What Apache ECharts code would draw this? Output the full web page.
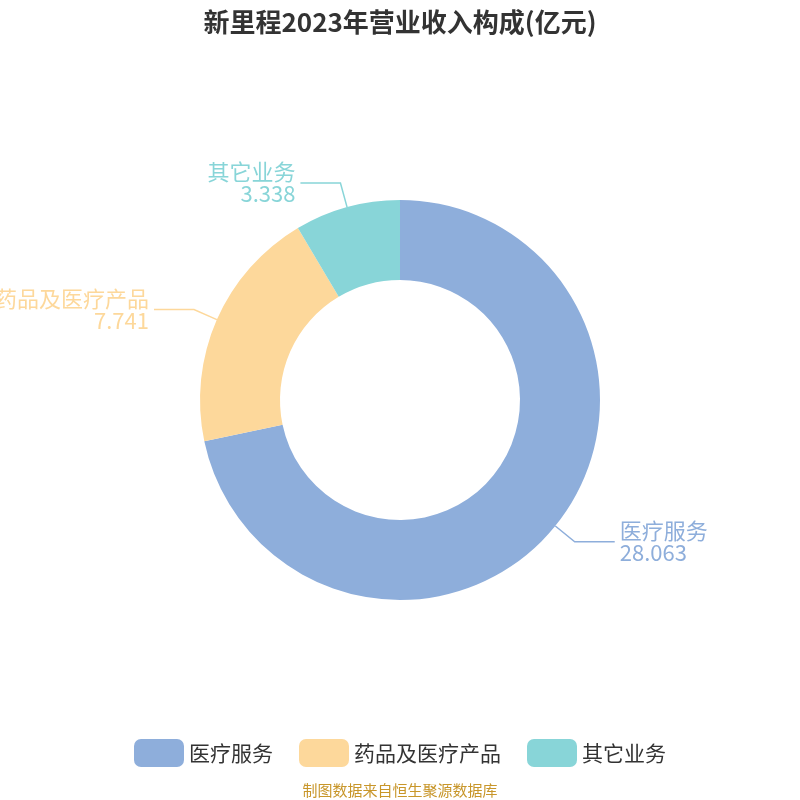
<!DOCTYPE html>
<html><head><meta charset="utf-8">
<script src="https://cdn.jsdelivr.net/npm/echarts@6/dist/echarts.min.js"></script>
<style>html,body{margin:0;padding:0}#c{width:800px;height:800px}</style></head>
<body><div id="c"></div>
<script>
const categories = ['医疗服务', '药品及医疗产品', '其它业务'];
const values = [28.063, 7.741, 3.338];
const colors = ['#8eaedb', '#fdd89b', '#88d5d8'];
const chart = echarts.init(document.getElementById('c'));
chart.setOption({
  title: [{text: '新里程2023年营业收入构成(亿元)', left: 'center', top: 4,
    textStyle: {fontSize: 26, fontWeight: 'bold', color: '#333', fontFamily: 'Noto Sans CJK SC'}},
    {text: '制图数据来自恒生聚源数据库', left: 'center', top: 778,
    textStyle: {fontSize: 15, fontWeight: 'normal', color: '#c8962a', fontFamily: 'Noto Sans CJK SC'}}],
  color: colors,
  legend: {bottom: 28, itemWidth: 50, itemHeight: 28, itemGap: 26, itemStyle: {borderRadius: 6},
    textStyle: {fontSize: 21, color: '#333', fontFamily: 'Noto Sans CJK SC'}},
  series: [{
    type: 'pie', center: ['50%', '50%'], radius: [120, 200], clockwise: true, startAngle: 90,
    data: categories.map((n, i) => ({name: n, value: values[i]})),
    label: {formatter: '{b}\n{c}', fontSize: 22, lineHeight: 22, color: 'inherit', overflow: 'none',
      fontFamily: 'Noto Sans CJK SC'},
    labelLine: {length: 25, length2: 40, lineStyle: {width: 1.5}},
    emphasis: {disabled: true}
  }]
});
</script></body></html>
